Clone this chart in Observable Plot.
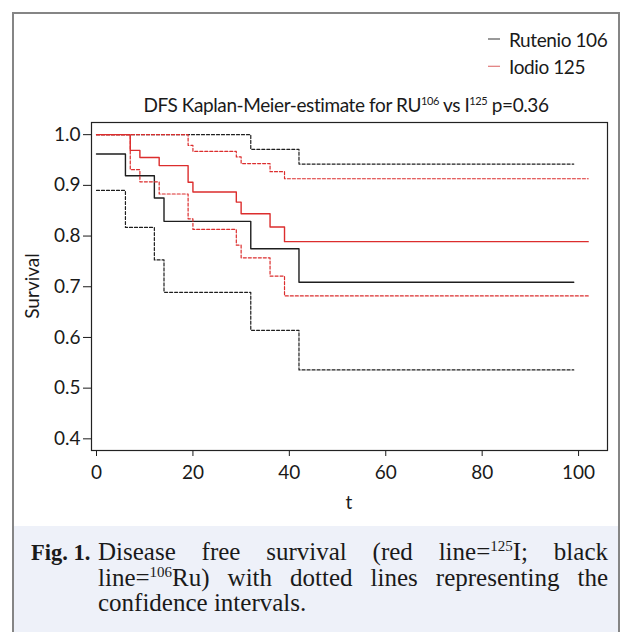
<!DOCTYPE html>
<html><head><meta charset="utf-8">
<script src="https://cdn.jsdelivr.net/npm/d3@7"></script>
<script src="https://cdn.jsdelivr.net/npm/@observablehq/plot@0.6"></script>
<style>
body{margin:0;background:#fff;}
#page{position:relative;width:621px;height:632px;overflow:hidden;}
#border{position:absolute;left:12px;top:12px;width:604px;height:660px;border:2px solid #858585;box-sizing:content-box;}
#capbg{position:absolute;left:14px;top:526px;width:604px;height:120px;background:#eef1f9;}
#chart{position:absolute;left:0;top:0;}
#overlay{position:absolute;left:0;top:0;pointer-events:none;}
.cap{position:absolute;font-family:"Liberation Serif",serif;font-size:25px;line-height:25.5px;color:#1a1a1a;white-space:nowrap;}
.fig{left:31px;font-weight:bold;font-size:22.5px;}
.ln{left:98px;width:510px;}
.just{text-align:justify;text-align-last:justify;}
.sp{font-size:15px;position:relative;top:-9px;}
</style></head>
<body>
<div id="page">
  <div id="capbg"></div>
  <div id="border"></div>
  <div id="chart"></div>
  <svg id="overlay" width="621" height="632"></svg>
  <div class="cap fig" style="top:540px">Fig. 1.</div>
  <div class="cap ln just" style="top:539px">Disease free survival (red line=<span class="sp">125</span>I; black</div>
  <div class="cap ln just" style="top:565px">line=<span class="sp">106</span>Ru) with dotted lines representing the</div>
  <div class="cap ln" style="top:590px">confidence intervals.</div>
</div>
<script>
// Rutenio 106 (black)
const ruTime = [0, 6, 12, 14, 32, 42, 99];
const ruSurv = [0.962, 0.919, 0.875, 0.829, 0.775, 0.709, 0.709];
const ruLower = [0.890, 0.817, 0.753, 0.689, 0.614, 0.536, 0.536];
const ruUpperTime = [0, 32, 42, 99];
const ruUpper = [1.0, 0.971, 0.942, 0.942];
// Iodio 125 (red)
const ioTime = [0, 7, 9, 13, 19, 20, 29, 30, 36, 39, 102];
const ioSurv = [1.0, 0.969, 0.955, 0.939, 0.906, 0.887, 0.867, 0.844, 0.818, 0.789, 0.789];
const ioLower = [1.0, 0.931, 0.907, 0.883, 0.834, 0.813, 0.782, 0.757, 0.721, 0.682, 0.682];
const ioUpperTime = [0, 19, 20, 29, 30, 36, 39, 102];
const ioUpper = [1.0, 0.979, 0.967, 0.956, 0.943, 0.927, 0.913, 0.913];

const xTicks = [0, 20, 40, 60, 80, 100];
const yTicks = [0.4, 0.5, 0.6, 0.7, 0.8, 0.9, 1.0];
const seriesNames = ["Rutenio 106", "Iodio 125"];
const black = "#1e1e1e", red = "#dc2d2d";

const pts = (t, s) => t.map((d, i) => ({t: d, s: s[i]}));
const solid = {strokeWidth: 1.4};
const dotted = {strokeWidth: 1.2, strokeDasharray: "3,2"};

const chart = Plot.plot({
  width: 621, height: 526,
  marginLeft: 91, marginRight: 14, marginTop: 122, marginBottom: 76,
  style: {fontFamily: "Lato, sans-serif", fontSize: "19px", color: "#1a1a1a", background: "transparent", overflow: "visible"},
  x: {domain: [-1.04, 106], ticks: xTicks, tickSize: 6, tickPadding: 9, label: null, tickFormat: d => String(d)},
  y: {domain: [0.377, 1.024], ticks: yTicks, tickSize: 8, tickPadding: 3, label: null, tickFormat: d => d.toFixed(1)},
  marks: [
    Plot.line(pts(ruUpperTime, ruUpper), {x: "t", y: "s", curve: "step-after", stroke: black, ...dotted}),
    Plot.line(pts(ruTime, ruLower), {x: "t", y: "s", curve: "step-after", stroke: black, ...dotted}),
    Plot.line(pts(ruTime, ruSurv), {x: "t", y: "s", curve: "step-after", stroke: black, ...solid}),
    Plot.line(pts(ioUpperTime, ioUpper), {x: "t", y: "s", curve: "step-after", stroke: red, ...dotted}),
    Plot.line(pts(ioTime, ioLower), {x: "t", y: "s", curve: "step-after", stroke: red, ...dotted}),
    Plot.line(pts(ioTime, ioSurv), {x: "t", y: "s", curve: "step-after", stroke: red, ...solid}),
    Plot.frame({stroke: "#222", strokeWidth: 1.2})
  ]
});
document.getElementById("chart").appendChild(chart);

// overlay texts: title, legend, axis labels
const ov = d3.select("#overlay");
const font = "Lato, sans-serif";
const title = ov.append("text").attr("x", 346).attr("y", 112).attr("text-anchor", "middle")
  .attr("font-family", font).attr("font-size", 19).attr("letter-spacing", "-0.4px").attr("fill", "#1a1a1a");
title.append("tspan").text("DFS Kaplan-Meier-estimate for RU");
title.append("tspan").attr("font-size", 11).attr("dy", -7).text("106");
title.append("tspan").attr("dy", 7).text(" vs I");
title.append("tspan").attr("font-size", 11).attr("dy", -7).text("125");
title.append("tspan").attr("dy", 7).text(" p=0.36");

const leg = ov.selectAll("g.leg").data(seriesNames).join("g").attr("class", "leg")
  .attr("transform", (d, i) => `translate(488,${39 + i * 27.3})`);
leg.append("line").attr("x1", 0).attr("x2", 12).attr("stroke", (d, i) => i ? "#e07a7a" : "#555").attr("stroke-width", 1.2);
leg.append("text").attr("x", 21).attr("y", 7.5).attr("font-family", font).attr("font-size", 19)
  .attr("letter-spacing", "-0.4px").attr("fill", "#1a1a1a").text(d => d);

ov.append("text").attr("transform", "translate(39,286) rotate(-90)").attr("text-anchor", "middle")
  .attr("font-family", font).attr("font-size", 19).attr("fill", "#1a1a1a").text("Survival");
ov.append("text").attr("x", 349).attr("y", 509).attr("text-anchor", "middle")
  .attr("font-family", font).attr("font-size", 19).attr("fill", "#1a1a1a").text("t");
</script>
</body></html>
